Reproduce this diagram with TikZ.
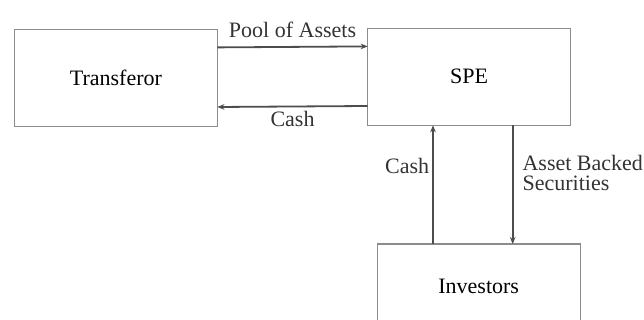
\documentclass[tikz,border=0pt]{standalone}
\usepackage{fontspec}
\setmainfont{Liberation Serif}
\usetikzlibrary{arrows.meta}
\definecolor{boxgray}{HTML}{8C8C8C}
\definecolor{flowgray}{HTML}{4D4D4D}

\begin{document}
\begin{tikzpicture}[x=0.5pt,y=-0.5pt,
  party/.style={draw=boxgray,line width=0.7pt,minimum width=101.5pt,minimum height=48.5pt,
    inner sep=0pt,outer sep=0pt,font=\fontsize{11}{13}\selectfont},
  flow/.style={draw=flowgray,line width=0.9pt,-{Stealth[length=3.5pt,width=2.8pt]}},
  lbl/.style={font=\fontsize{11}{13}\selectfont,text=black!80,inner sep=1.5pt}]
  \useasboundingbox (0,0) rectangle (644,320);
  \clip (0,0) rectangle (644,320);
  % parties
  \node[party] (transferor) at (115.9,77.8) {Transferor};
  \node[party] (spe) at (469.2,76.8) {SPE};
  \node[party,minimum height=42pt] (investors) at (478.7,286) {Investors};
  % transferor <-> SPE
  \draw[flow] ([yshift=15.2pt]transferor.east) -- ([yshift=15.2pt]spe.west)
    node[lbl,midway,above=2.5pt] {Pool of Assets};
  \draw[flow] ([yshift=-14.6pt]spe.west) -- ([yshift=-14.6pt]transferor.east)
    node[lbl,midway,below=0.5pt] {Cash};
  % SPE <-> investors
  \draw[flow] ([xshift=-22.85pt]investors.north) -- ([xshift=-22.85pt]investors.north |- spe.south)
    node[lbl,pos=0.66,left] {Cash};
  \draw[flow] ([xshift=21.75pt]spe.south) -- ([xshift=21.75pt]spe.south |- investors.north)
    node[lbl,pos=0.4,right=3pt,align=left] {Asset Backed\\[-3pt]Securities};
\end{tikzpicture}
\end{document}
